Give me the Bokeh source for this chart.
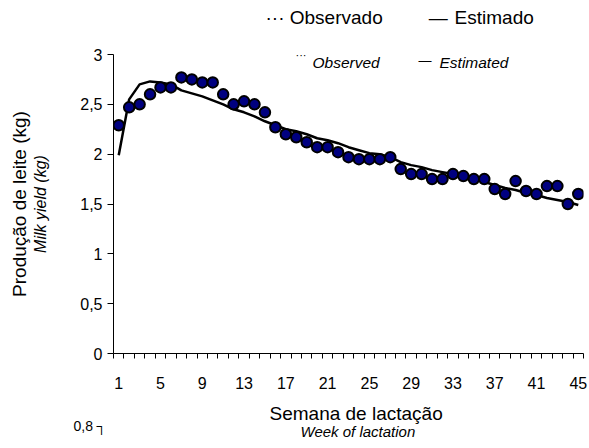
from bokeh.plotting import figure
from bokeh.models import Range1d, FixedTicker, Label, ColumnDataSource, Title
from bokeh.embed import file_html
from bokeh.resources import INLINE

weeks = list(range(1, 46))
observed = [2.29, 2.47, 2.50, 2.60, 2.67, 2.67, 2.77, 2.75, 2.72, 2.72,
            2.60, 2.50, 2.53, 2.50, 2.42, 2.27, 2.20, 2.17, 2.12, 2.07,
            2.07, 2.02, 1.97, 1.95, 1.95, 1.95, 1.97, 1.85, 1.80, 1.80,
            1.75, 1.75, 1.80, 1.78, 1.75, 1.75, 1.65, 1.60, 1.73, 1.63,
            1.60, 1.68, 1.68, 1.50, 1.60]
estimated = [1.99, 2.55, 2.70, 2.73, 2.72, 2.70, 2.64, 2.61, 2.58, 2.54,
             2.50, 2.45, 2.42, 2.38, 2.33, 2.29, 2.25, 2.23, 2.20, 2.16,
             2.14, 2.11, 2.07, 2.04, 2.01, 2.00, 1.97, 1.92, 1.89, 1.87,
             1.84, 1.82, 1.80, 1.78, 1.75, 1.72, 1.69, 1.66, 1.64, 1.61,
             1.59, 1.56, 1.54, 1.52, 1.49]
x_tick_values = [1, 5, 9, 13, 17, 21, 25, 29, 33, 37, 41, 45]
x_tick_labels = [str(v) for v in x_tick_values]
y_tick_values = [0, 0.5, 1, 1.5, 2, 2.5, 3]
y_tick_labels = ["0", "0,5", "1", "1,5", "2", "2,5", "3"]
x_boundaries = [w - 0.5 for w in weeks] + [weeks[-1] + 0.5]

FONT = "Liberation Sans"
NB = "\u00a0"

src = ColumnDataSource(data=dict(week=weeks, obs=observed, est=estimated))

p = figure(width=589, height=448, output_backend="svg", toolbar_location=None,
           x_range=Range1d(x_boundaries[0], x_boundaries[-1]), y_range=Range1d(0, 3),
           min_border_left=113, min_border_right=6, min_border_top=54,
           min_border_bottom=95)
p.outline_line_color = None
p.xgrid.grid_line_color = None
p.ygrid.grid_line_color = None
p.background_fill_color = "white"
p.border_fill_color = "white"

p.line("week", "est", source=src, line_color="black", line_width=2.5)
p.scatter("week", "obs", source=src, size=10.5, fill_color="#000080",
          line_color="black", line_width=2)

xa = p.xaxis[0]
xa.ticker = FixedTicker(ticks=x_tick_values, minor_ticks=x_boundaries)
xa.major_label_overrides = {v: l for v, l in zip(x_tick_values, x_tick_labels)}
xa.major_tick_line_color = None
xa.minor_tick_line_color = "black"
xa.minor_tick_out = 5
xa.minor_tick_in = 0
xa.axis_line_color = "black"
xa.major_label_text_font = FONT
xa.major_label_text_font_size = "16px"
xa.major_label_text_color = "black"
xa.major_label_standoff = 17

ya = p.yaxis[0]
ya.ticker = FixedTicker(ticks=y_tick_values, minor_ticks=[])
ya.major_label_overrides = {v: l for v, l in zip(y_tick_values, y_tick_labels)}
ya.major_tick_out = 6
ya.major_tick_in = 0
ya.major_tick_line_color = "black"
ya.axis_line_color = "black"
ya.major_label_text_font = FONT
ya.major_label_text_font_size = "16px"
ya.major_label_text_color = "black"
ya.major_label_standoff = 5

# frame-relative screen coordinates: frame left = page x 113, frame bottom = page y 353
FL, FB = 113, 353


def add_text(txt, px, py, size, style="normal", align="left"):
    p.add_layout(Label(x=px - FL, y=FB - py, x_units="screen", y_units="screen",
                       text=txt, text_font=FONT, text_font_size=size,
                       text_font_style=style, text_align=align,
                       text_baseline="middle", text_color="black"))


def add_title(txt, side, size, style="normal", align="left", offset=0, standoff=0):
    p.add_layout(Title(text=txt, text_font=FONT, text_font_size=size,
                       text_font_style=style, align=align, offset=offset,
                       standoff=standoff, text_color="black"), side)


def add_spacer(side, px):
    add_title(NB, side, "1px", standoff=px)


add_text("···", 295, 54, "11px")
add_text("Observed", 312, 62, "15.5px", "italic")
add_text("—", 418, 60, "13px")
add_text("Estimated", 439, 62, "15.5px", "italic")

add_spacer("above", 24)
add_title("··· Observado" + NB * 8 + "\u2009" + "—" + NB + "\u200a" + "Estimado", "above", "19px",
          offset=265 - FL)
add_spacer("below", 6)
add_title("Semana de lactação", "below", "19px", offset=156)
add_title("0,8 \u2510", "below", "14px", offset=73 - FL, standoff=-15)
add_title("Week of lactation", "below", "15px", "italic", offset=187, standoff=-11)
add_spacer("left", 26)
add_title("Milk yield (kg)", "left", "16px", "italic", align="center")
add_title("Produção de leite (kg)", "left", "19px", align="center")

open("out.html", "w").write(file_html(p, INLINE))
